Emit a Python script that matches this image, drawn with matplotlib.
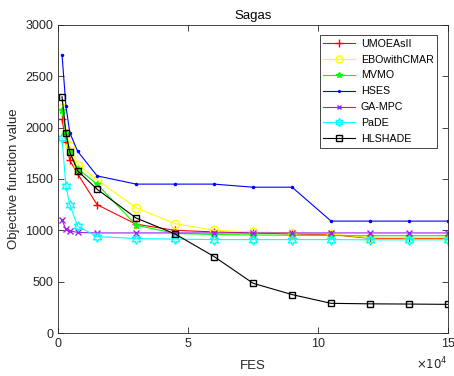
import matplotlib
matplotlib.use('Agg')
import matplotlib.pyplot as plt

plt.rcParams['font.family'] = ['Liberation Sans', 'DejaVu Sans']

fes = [1500, 3000, 4500, 7500, 15000, 30000, 45000, 60000, 75000, 90000, 105000, 120000, 135000, 150000]

umoeasii = [2080, 1860, 1680, 1550, 1250, 1060, 1000, 985, 975, 965, 960, 922, 922, 922]
ebowithcmar = [2190, 1950, 1820, 1640, 1490, 1220, 1065, 1000, 985, 975, 965, 928, 928, 928]
mvmo = [2170, 1950, 1760, 1600, 1450, 1050, 970, 960, 955, 952, 950, 948, 948, 948]
hses = [2710, 2210, 1950, 1770, 1530, 1450, 1450, 1450, 1420, 1420, 1090, 1090, 1090, 1090]
gampc = [1100, 1010, 995, 980, 975, 975, 975, 975, 975, 975, 975, 975, 975, 975]
pade = [1900, 1430, 1250, 1040, 940, 920, 915, 910, 910, 910, 910, 908, 908, 908]
hlshade = [2300, 1950, 1760, 1580, 1400, 1120, 965, 745, 485, 375, 290, 285, 283, 280]

names = ['UMOEAsII', 'EBOwithCMAR', 'MVMO', 'HSES', 'GA-MPC', 'PaDE', 'HLSHADE']

fig = plt.figure(figsize=(4.54, 3.76), dpi=100)
ax = fig.add_axes([0.128, 0.114, 0.859, 0.820])

gray = '#262626'
ax.plot(fes, umoeasii, color='red', marker='+', ms=6, lw=0.8, label=names[0])
ax.plot(fes, ebowithcmar, color='yellow', marker='o', ms=6, mfc='none', lw=0.8, label=names[1])
ax.plot(fes, mvmo, color='#00ff00', marker='*', ms=5, lw=0.8, label=names[2])
ax.plot(fes, hses, color='blue', marker='.', ms=3, lw=0.8, label=names[3])
ax.plot(fes, gampc, color='#a020f0', marker='x', ms=4, lw=0.8, label=names[4])
# six-pointed star for PaDE
ax.plot(fes, pade, color='cyan', marker=(6, 1, 0), ms=7, mfc='none', lw=0.8, label=names[5])
ax.plot(fes, hlshade, color='black', marker='s', ms=5, mfc='none', lw=0.8, label=names[6])

ax.set_xlim(0, 150000)
ax.set_ylim(0, 3000)
ax.set_xticks([0, 50000, 100000, 150000])
ax.set_xticklabels(['0', '5', '10', '15'])
ax.set_yticks(range(0, 3001, 500))
ax.tick_params(direction='in', top=True, right=True, labelsize=9, colors=gray, length=4, width=0.6)
for sp in ax.spines.values():
    sp.set_color(gray)
    sp.set_linewidth(0.6)

ax.text(1.0, -0.1, r'$\times10^4$', transform=ax.transAxes, ha='right', va='center', fontsize=8.5, color=gray)
ax.set_title('Sagas', fontsize=9.5, color='black', pad=4)
ax.set_xlabel('FES', fontsize=9.5, color=gray, labelpad=7)
ax.set_ylabel('Objective function value', fontsize=9.5, color=gray, labelpad=4)

leg = ax.legend(loc='upper right', fontsize=7.7, fancybox=False, edgecolor=gray,
                framealpha=1, borderpad=0.35, labelspacing=0.55, handlelength=3.0,
                handletextpad=0.5, borderaxespad=0, bbox_to_anchor=(0.972, 0.967), markerscale=0.85)
leg.get_frame().set_linewidth(0.6)

fig.savefig('out.png', dpi=100)
